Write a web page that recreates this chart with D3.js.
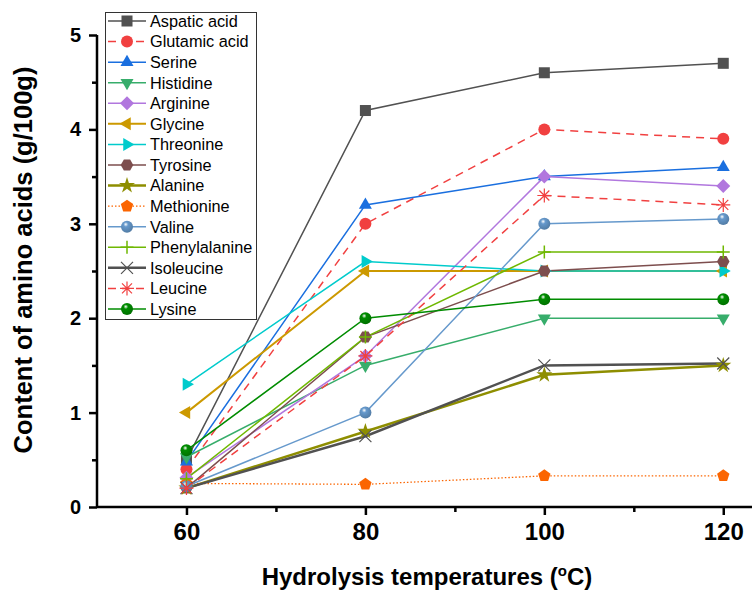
<!DOCTYPE html>
<html><head><meta charset="utf-8">
<script src="https://cdn.jsdelivr.net/npm/d3@7"></script>
<style>body{margin:0;background:#fff}svg{display:block}</style>
</head><body>
<svg id="c" width="752" height="590"></svg>
<script>
const temperatures = [60, 80, 100, 120];
const xTicks = [60, 80, 100, 120];
const yTicks = [0, 1, 2, 3, 4, 5];
const seriesNames = ["Aspatic acid","Glutamic acid","Serine","Histidine","Arginine","Glycine","Threonine","Tyrosine","Alanine","Methionine","Valine","Phenylalanine","Isoleucine","Leucine","Lysine"];
const aspatic      = [0.50, 4.20, 4.60, 4.70];
const glutamic     = [0.40, 3.00, 4.00, 3.90];
const serine       = [0.48, 3.20, 3.50, 3.60];
const histidine    = [0.53, 1.50, 2.00, 2.00];
const arginine     = [0.31, 1.60, 3.50, 3.40];
const glycine      = [1.00, 2.50, 2.50, 2.50];
const threonine    = [1.30, 2.60, 2.50, 2.50];
const tyrosine     = [0.20, 1.80, 2.50, 2.60];
const alanine      = [0.20, 0.80, 1.40, 1.50];
const methionine   = [0.25, 0.24, 0.33, 0.33];
const valine       = [0.22, 1.00, 3.00, 3.05];
const phenylalanine= [0.30, 1.80, 2.70, 2.70];
const isoleucine   = [0.20, 0.75, 1.50, 1.52];
const leucine      = [0.20, 1.60, 3.30, 3.20];
const lysine       = [0.60, 2.00, 2.20, 2.20];
const seriesValues = [aspatic, glutamic, serine, histidine, arginine, glycine, threonine, tyrosine, alanine, methionine, valine, phenylalanine, isoleucine, leucine, lysine];

const styles = [
  {c:"#515151", m:"square", w:1.5},
  {c:"#F14040", m:"circle", w:1.5, dash:"8,6"},
  {c:"#1A6FDF", m:"tri", w:1.5},
  {c:"#37AD6B", m:"trid", w:1.5},
  {c:"#B177DE", m:"diamond", w:1.5},
  {c:"#CC9900", m:"tril", w:2},
  {c:"#00CBCC", m:"trir", w:1.5},
  {c:"#7D4E4E", m:"hex", w:1.5},
  {c:"#8E8E00", m:"star", w:2.5},
  {c:"#FB6501", m:"pent", w:1.3, dash:"1.5,2"},
  {c:"#6699CC", m:"sphere", w:1.5},
  {c:"#6FB802", m:"plus", w:1.5},
  {c:"#515151", m:"x", w:2.5},
  {c:"#F14040", m:"aster", w:1.5, dash:"8,6"},
  {c:"#008C00", m:"sphere", w:1.5}
];

const FONT = "Liberation Sans, Arial, sans-serif";
const svg = d3.select("#c");
const x = d3.scaleLinear().domain([50, 125]).range([97, 768]);
const y = d3.scaleLinear().domain([0, 5]).range([507, 35]);

const defs = svg.append("defs");
styles.forEach((s,i)=>{
  if(s.m==="sphere"){
    const g = defs.append("radialGradient").attr("id","sph"+i).attr("cx","0.4").attr("cy","0.35").attr("r","0.65").attr("fx","0.4").attr("fy","0.3");
    g.append("stop").attr("offset","0").attr("stop-color","#fff");
    g.append("stop").attr("offset","0.3").attr("stop-color",s.c);
    g.append("stop").attr("offset","1").attr("stop-color",d3.color(s.c).darker(0.6));
  }
});

function poly(n, r, rot){
  const pts=[];
  for(let k=0;k<n;k++){const a=rot+k*2*Math.PI/n;pts.push([r*Math.cos(a),r*Math.sin(a)]);}
  return "M"+pts.map(p=>p[0].toFixed(2)+","+p[1].toFixed(2)).join("L")+"Z";
}
function drawMarker(g, s, i, cx, cy){
  const t = `translate(${cx},${cy})`;
  let p;
  switch(s.m){
    case "square": g.append("rect").attr("x",cx-5.5).attr("y",cy-5.5).attr("width",11).attr("height",11).attr("fill",s.c); return;
    case "circle": g.append("circle").attr("cx",cx).attr("cy",cy).attr("r",6).attr("fill",s.c); return;
    case "sphere": g.append("circle").attr("cx",cx).attr("cy",cy).attr("r",6).attr("fill","url(#sph"+i+")"); return;
    case "tri": p = poly(3, 7.5, -Math.PI/2); break;
    case "trid": p = poly(3, 7.5, Math.PI/2); break;
    case "tril": p = poly(3, 7.5, Math.PI); break;
    case "trir": p = poly(3, 7.5, 0); break;
    case "diamond": p = poly(4, 7, 0); break;
    case "hex": p = poly(6, 6.3, 0); break;
    case "pent": p = poly(5, 6.5, -Math.PI/2); break;
    case "star": g.append("path").attr("transform",t).attr("d",d3.symbol(d3.symbolStar,80)()).attr("fill",s.c); return;
    case "plus":
      g.append("path").attr("transform",t).attr("d","M0,-6.5V6.5M-6.5,0H6.5").attr("stroke",s.c).attr("stroke-width",1.5).attr("fill","none"); return;
    case "x":
      g.append("path").attr("transform",t).attr("d","M-6,-6L6,6M-6,6L6,-6").attr("stroke",s.c).attr("stroke-width",1.2).attr("fill","none"); return;
    case "aster":
      g.append("path").attr("transform",t).attr("d","M0,-7V7M-7,0H7M-5,-5L5,5M-5,5L5,-5").attr("stroke",s.c).attr("stroke-width",1.2).attr("fill","none"); return;
  }
  g.append("path").attr("transform",t).attr("d",p).attr("fill",s.c);
}

// axes
const xAxis = d3.axisBottom(x).tickValues(xTicks).tickSize(8).tickFormat(d3.format("d"));
const xMinor = d3.axisBottom(x).tickValues([70,90,110]).tickSize(5).tickFormat("");
const yAxis = d3.axisLeft(y).tickValues(yTicks).tickSize(8).tickFormat(d3.format("d"));
const yMinor = d3.axisLeft(y).tickValues([0.5,1.5,2.5,3.5,4.5]).tickSize(5).tickFormat("");

function styleAxis(g, fs){
  g.select(".domain").attr("stroke","#000").attr("stroke-width",2.5);
  g.selectAll(".tick line").attr("stroke","#000").attr("stroke-width",2.5);
  g.selectAll(".tick text").attr("fill","#000").attr("font-family",FONT).attr("font-weight","bold").attr("font-size",fs+"px");
}
const gxm = svg.append("g").attr("transform","translate(0,507)").call(xMinor); styleAxis(gxm,20); gxm.select(".domain").remove();
const gym = svg.append("g").attr("transform","translate(97,0)").call(yMinor); styleAxis(gym,20); gym.select(".domain").remove();
const gx = svg.append("g").attr("transform","translate(0,507)").call(xAxis); styleAxis(gx,24);
gx.select(".domain").attr("d","M97,0H768");
gx.selectAll(".tick text").attr("y",33).attr("dy",null);
const gy = svg.append("g").attr("transform","translate(97,0)").call(yAxis); styleAxis(gy,20);
gy.select(".domain").attr("d","M0,35V507");
gy.selectAll(".tick text").attr("dx","-0.25em");

// titles
svg.append("text").attr("x",427).attr("y",585).attr("text-anchor","middle")
  .attr("font-family",FONT).attr("font-weight","bold").attr("font-size","24px")
  .html('Hydrolysis temperatures (<tspan dy="-9" font-size="15px">o</tspan><tspan dy="9">C)</tspan>');
svg.append("text").attr("transform","translate(32,260) rotate(-90)").attr("text-anchor","middle")
  .attr("font-family",FONT).attr("font-weight","bold").attr("font-size","25.5px")
  .text("Content of amino acids (g/100g)");

// lines
const line = d3.line().x((d,k)=>x(temperatures[k])).y(d=>y(d));
const plot = svg.append("g");
seriesValues.forEach((vals,i)=>{
  const s = styles[i];
  plot.append("path").attr("d",line(vals)).attr("fill","none").attr("stroke",s.c)
    .attr("stroke-width",s.w).attr("stroke-dasharray",s.dash||null);
});
seriesValues.forEach((vals,i)=>{
  const g = plot.append("g");
  vals.forEach((v,k)=>drawMarker(g, styles[i], i, x(temperatures[k]), y(v)));
});

// legend
const lg = svg.append("g");
const rowH = 20.57, ly0 = 21;
lg.append("rect").attr("x",105.5).attr("y",12.5).attr("width",151).attr("height",307)
  .attr("fill","#fff").attr("stroke","#333").attr("stroke-width",1);
seriesNames.forEach((n,i)=>{
  const s = styles[i];
  const yy = ly0 + i*rowH;
  lg.append("line").attr("x1",108).attr("x2",146).attr("y1",yy).attr("y2",yy)
    .attr("stroke",s.c).attr("stroke-width",s.w).attr("stroke-dasharray",s.dash||null);
  drawMarker(lg, s, i, 127, yy);
  lg.append("text").attr("x",150).attr("y",yy).attr("dy","0.36em")
    .attr("font-family",FONT).attr("font-size","16.3px").attr("fill","#000").text(n);
});
</script>
</body></html>
